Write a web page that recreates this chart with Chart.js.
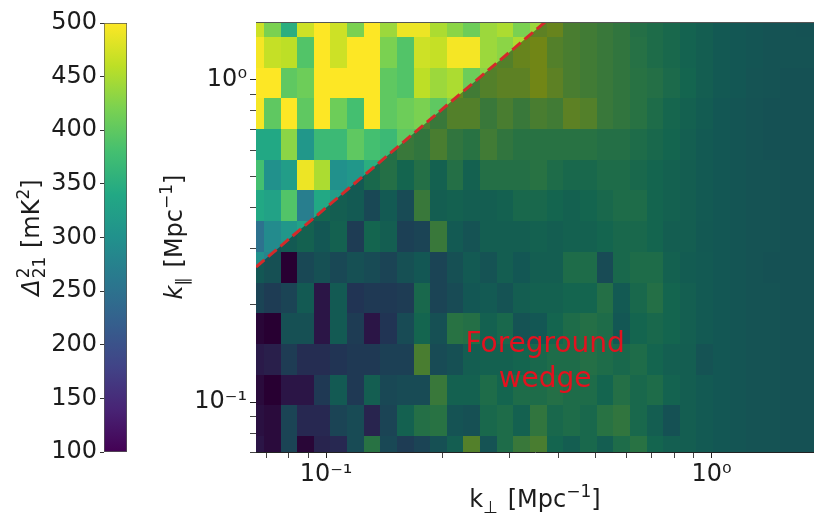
<!DOCTYPE html>
<html>
<head>
<meta charset="utf-8">
<script src="https://cdn.jsdelivr.net/npm/chart.js@4.4.1/dist/chart.umd.min.js"></script>
<style>
  body { margin: 0; background: #fff; }
  #wrap { position: relative; width: 814px; height: 518px; }
  #wrap canvas { position: absolute; left: 0; top: 0; }
</style>
</head>
<body>
<div id="wrap">
  <canvas id="powerMap" width="814" height="518"></canvas>
  <canvas id="colorbar" width="140" height="518"></canvas>
</div>
<script>
// k_perp bin centres [Mpc^-1], left to right
var kPerp = [0.0658, 0.0727, 0.0803, 0.0887, 0.0979, 0.1082, 0.1195, 0.1319, 0.1457, 0.1610,
             0.1778, 0.1964, 0.2169, 0.2395, 0.2646, 0.2922, 0.3227, 0.3565, 0.3937, 0.4349,
             0.4803, 0.5305, 0.5859, 0.6472, 0.7148, 0.7895, 0.8720, 0.9632, 1.0638, 1.175,
             1.298, 1.433, 1.583, 1.749];
// k_par bin centres [Mpc^-1], top row first
var kPar = [1.505, 1.209, 0.971, 0.780, 0.627, 0.503, 0.404, 0.325, 0.261, 0.209,
            0.168, 0.135, 0.1085, 0.0871, 0.0700];

// Delta^2_21 [mK^2], one row per kPar bin, one column per kPerp bin
var power = [
  [470,420,350,470,500,470,420,500,440,490,490,450,430,410,440,450,420,440, 450,420,410,400,390,370,360,350,335,320,305,300,295,290,290,288],
  [495,465,460,390,500,470,500,500,420,390,470,465,495,495,440,430,450,460, 430,420,410,400,390,375,360,350,335,320,305,300,295,290,290,290],
  [500,500,400,410,500,500,500,500,400,390,460,440,450,410,430,440,440,460, 440,420,410,400,390,380,370,355,340,320,305,300,292,290,285,285],
  [495,400,500,400,500,410,380,500,400,410,420,400,430,430,400,420,400,420, 410,440,430,400,390,380,360,345,330,315,300,295,290,285,285,285],
  [340,340,430,310,370,370,400,380,370,400,390,420,390,380,410,390,380,380, 380,380,380,370,370,360,350,340,325,310,300,295,290,285,285,285],
  [380,300,320,490,450,300,310,350,370,340,370,330,370,330,370,370,370,380, 360,350,350,360,360,350,340,330,320,310,300,295,290,290,285,285],
  [340,330,390,270,340,320,310,260,310,270,400,320,330,320,320,330,350,350, 340,330,340,350,360,360,340,330,320,310,300,295,290,290,285,285],
  [250,290,310,330,300,330,230,340,320,240,250,400,310,290,320,320,320,330, 320,330,330,340,350,350,340,320,320,305,300,295,290,290,285,285],
  [300,280,100,260,280,260,280,270,250,280,300,250,280,310,290,320,300,320, 320,360,360,270,350,360,360,330,315,310,300,295,290,285,285,285],
  [250,230,250,310,140,310,210,220,220,230,350,250,270,300,310,290,320,330, 330,340,340,370,310,350,370,340,325,310,300,295,290,290,285,285],
  [110,100,280,280,140,310,230,140,210,270,340,280,380,370,330,350,290,300, 340,360,370,360,300,340,350,340,325,310,300,295,290,290,285,285],
  [150,160,230,190,190,210,220,220,240,240,420,270,280,320,330,330,340,350, 360,360,370,360,350,360,340,325,320,290,300,295,290,290,285,285],
  [120,100,140,140,220,310,220,320,260,270,270,400,330,330,360,340,360,360, 370,360,360,340,370,350,360,335,320,310,300,295,290,290,285,285],
  [130,120,250,180,180,250,270,170,250,330,370,380,290,280,350,360,330,390, 350,360,350,380,390,350,320,285,320,310,300,295,290,290,285,285],
  [140,120,250,110,170,180,270,380,260,230,250,280,320,430,290,360,400,420, 340,320,350,320,360,380,340,325,320,310,300,295,290,290,285,285]
];

// foreground wedge boundary, k_par ~ 4 k_perp
var wedgeLine = [{x: 0.0658, y: 0.262}, {x: 0.370, y: 1.505}];

var xTicks = [0.07, 0.08, 0.09, 0.1, 0.2, 0.3, 0.4, 0.5, 0.6, 0.7, 0.8, 0.9, 1];
var yTicks = [0.07, 0.08, 0.09, 0.1, 0.2, 0.3, 0.4, 0.5, 0.6, 0.7, 0.8, 0.9, 1];
var cbTicks = [100, 150, 200, 250, 300, 350, 400, 450, 500];
var cbMin = 100, cbMax = 500;

var viridis = ['#440154', '#482475', '#414487', '#355f8d', '#2a788e', '#21918c',
               '#22a884', '#44bf70', '#7ad151', '#bddf26', '#fde725'];

var FONT = 'DejaVu Sans';
var INK = '#1c1c1c';

function hexRgb(h) {
  return [parseInt(h.substr(1, 2), 16), parseInt(h.substr(3, 2), 16), parseInt(h.substr(5, 2), 16)];
}
function colorFor(v) {
  var t = Math.max(0, Math.min(1, (v - cbMin) / (cbMax - cbMin))) * (viridis.length - 1);
  var i = Math.min(Math.floor(t), viridis.length - 2), f = t - i;
  var a = hexRgb(viridis[i]), b = hexRgb(viridis[i + 1]);
  return 'rgb(' + Math.round(a[0] + (b[0] - a[0]) * f) + ',' +
                  Math.round(a[1] + (b[1] - a[1]) * f) + ',' +
                  Math.round(a[2] + (b[2] - a[2]) * f) + ')';
}

// geometric bin edges around log-spaced centres
function edges(c, i) {
  var lo = i > 0 ? Math.sqrt(c[i - 1] * c[i]) : c[0] * c[0] / Math.sqrt(c[0] * c[1]);
  var hi = i < c.length - 1 ? Math.sqrt(c[i] * c[i + 1]) : c[i] * c[i] / Math.sqrt(c[i - 1] * c[i]);
  return [lo, hi];
}

// text with italics, sub/superscripts; parts drawn left to right centred on (0,0)
function richText(ctx, parts, size) {
  var small = Math.round(size * 0.7);
  function font(p, s) { return (p.italic ? 'italic ' : '') + s + 'px "' + FONT + '"'; }
  var widths = parts.map(function (p) {
    if (p.stack) {
      ctx.font = font(p, small);
      return Math.max(ctx.measureText(p.stack[0]).width, ctx.measureText(p.stack[1]).width) + 2;
    }
    ctx.font = font(p, p.sup || p.sub ? small : size);
    return ctx.measureText(p.t).width + (p.pad || 0);
  });
  var total = widths.reduce(function (a, b) { return a + b; }, 0);
  var x = -total / 2, base = size * 0.36;
  ctx.textAlign = 'left';
  ctx.textBaseline = 'alphabetic';
  parts.forEach(function (p, i) {
    if (p.stack) {
      ctx.font = font(p, small);
      ctx.fillText(p.stack[0], x + 1, base - size * 0.42);
      ctx.fillText(p.stack[1], x + 1, base + size * 0.25);
    } else if (p.sup) {
      ctx.font = font(p, small);
      ctx.fillText(p.t, x, base - size * 0.42);
    } else if (p.sub) {
      ctx.font = font(p, small);
      ctx.fillText(p.t, x, base + size * 0.25);
    } else {
      ctx.font = font(p, size);
      ctx.fillText(p.t, x, base);
    }
    x += widths[i];
  });
}

var heatmapPlugin = {
  id: 'heatmap',
  beforeDatasetsDraw: function (chart) {
    var ctx = chart.ctx, area = chart.chartArea;
    var xs = chart.scales.x, ys = chart.scales.y;
    ctx.save();
    ctx.beginPath();
    ctx.rect(area.left, area.top, area.right - area.left, area.bottom - area.top);
    ctx.clip();
    for (var r = 0; r < kPar.length; r++) {
      var ye = edges(kPar, r);
      var y0 = ys.getPixelForValue(ye[0]), y1 = ys.getPixelForValue(ye[1]);
      for (var c = 0; c < kPerp.length; c++) {
        var xe = edges(kPerp, c);
        var x0 = xs.getPixelForValue(xe[0]), x1 = xs.getPixelForValue(xe[1]);
        ctx.fillStyle = colorFor(power[r][c]);
        ctx.fillRect(Math.floor(x0), Math.floor(Math.min(y0, y1)),
                     Math.ceil(x1) - Math.floor(x0) + 1, Math.ceil(Math.abs(y1 - y0)) + 1);
      }
    }
    // shade the wedge below the boundary line
    var p0x = xs.getPixelForValue(wedgeLine[0].x), p0y = ys.getPixelForValue(wedgeLine[0].y);
    var p1x = xs.getPixelForValue(wedgeLine[1].x), p1y = ys.getPixelForValue(wedgeLine[1].y);
    ctx.beginPath();
    ctx.moveTo(p0x, p0y);
    ctx.lineTo(p1x, p1y);
    ctx.lineTo(area.right, area.top);
    ctx.lineTo(area.right, area.bottom);
    ctx.lineTo(area.left, area.bottom);
    ctx.closePath();
    ctx.fillStyle = 'rgba(0,0,0,0.4)';
    ctx.fill();
    ctx.restore();
  },
  afterDatasetsDraw: function (chart) {
    var ctx = chart.ctx, xs = chart.scales.x, ys = chart.scales.y;
    var cx = xs.getPixelForValue(0.37), cy = ys.getPixelForValue(0.133);
    ctx.save();
    ctx.fillStyle = '#e3121f';
    ctx.font = '28px "' + FONT + '"';
    ctx.textAlign = 'center';
    ctx.textBaseline = 'middle';
    ctx.fillText('Foreground', cx, cy - 17);
    ctx.fillText('wedge', cx, cy + 18);
    ctx.restore();
  },
  afterDraw: function (chart) {
    var ctx = chart.ctx, area = chart.chartArea;
    ctx.save();
    ctx.strokeStyle = '#555';
    ctx.lineWidth = 1;
    ctx.beginPath();
    ctx.moveTo(area.left, area.top + 0.5);
    ctx.lineTo(area.right, area.top + 0.5);
    ctx.stroke();
    ctx.fillStyle = INK;
    ctx.translate(173, (area.top + area.bottom) / 2);
    ctx.rotate(-Math.PI / 2);
    richText(ctx, [{t: 'k', italic: true}, {t: '\u2225', sub: true, pad: 2}, {t: ' [Mpc'}, {t: '\u22121', sup: true}, {t: ']'}], 24);
    ctx.restore();
    ctx.save();
    ctx.fillStyle = INK;
    ctx.translate((area.left + area.right) / 2, 498);
    richText(ctx, [{t: 'k'}, {t: '\u22a5', sub: true, pad: 2}, {t: ' [Mpc'}, {t: '\u22121', sup: true}, {t: ']'}], 24);
    ctx.restore();
  }
};

function tickColor(ctx) {
  var v = ctx.tick && ctx.tick.value;
  return (v === 0.1 || v === 1) ? '#222' : '#444';
}

new Chart(document.getElementById('powerMap'), {
  type: 'scatter',
  data: {
    datasets: [{
      data: wedgeLine,
      showLine: true,
      borderColor: '#d42a2a',
      borderWidth: 3,
      borderDash: [11, 5],
      pointRadius: 0,
      fill: false
    }]
  },
  options: {
    responsive: false,
    animation: false,
    layout: { padding: { left: 150, top: 22, right: 0, bottom: 0 } },
    plugins: { legend: { display: false }, tooltip: { enabled: false } },
    scales: {
      x: {
        type: 'logarithmic',
        min: 0.0658, max: 1.844,
        afterBuildTicks: function (s) { s.ticks = xTicks.map(function (v) { return {value: v}; }); },
        afterFit: function (s) { s.height = 66; s.paddingLeft = 0; s.paddingRight = 0; },
        ticks: {
          autoSkip: false, maxRotation: 0, padding: 2, color: INK,
          font: { family: FONT, size: 24 },
          callback: function (v) { return v === 0.1 ? '10\u207b\u00b9' : v === 1 ? '10\u2070' : ''; }
        },
        grid: { drawOnChartArea: false, tickLength: 6, tickColor: tickColor },
        border: { display: true, color: '#222', width: 1 }
      },
      y: {
        type: 'logarithmic',
        min: 0.0700, max: 1.505,
        afterBuildTicks: function (s) { s.ticks = yTicks.map(function (v) { return {value: v}; }); },
        afterFit: function (s) { s.width = 106; },
        ticks: {
          autoSkip: false, padding: 3, color: INK,
          font: { family: FONT, size: 24 },
          callback: function (v) { return v === 0.1 ? '10\u207b\u00b9' : v === 1 ? '10\u2070' : ''; }
        },
        grid: { drawOnChartArea: false, tickLength: 6, tickColor: tickColor },
        border: { display: true, color: '#222', width: 1 }
      }
    }
  },
  plugins: [heatmapPlugin]
});

// colour bar: one floating bar spanning the colour range, filled with the colormap
var cbTitle = {
  id: 'cbTitle',
  afterDraw: function (chart) {
    var ctx = chart.ctx, area = chart.chartArea;
    ctx.save();
    ctx.fillStyle = INK;
    ctx.translate(30, (area.top + area.bottom) / 2);
    ctx.rotate(-Math.PI / 2);
    richText(ctx, [{t: '\u0394', italic: true}, {stack: ['2', '21']}, {t: ' [mK'}, {t: '2', sup: true}, {t: ']'}], 24);
    ctx.restore();
  }
};

new Chart(document.getElementById('colorbar'), {
  type: 'bar',
  data: {
    labels: [''],
    datasets: [{
      data: [[cbMin, cbMax]],
      backgroundColor: function (c) {
        var ys = c.chart.scales.y;
        var lo = ys ? ys.getPixelForValue(cbMin) : NaN, hi = ys ? ys.getPixelForValue(cbMax) : NaN;
        if (!isFinite(lo) || !isFinite(hi)) return viridis[5];
        var g = c.chart.ctx.createLinearGradient(0, lo, 0, hi);
        viridis.forEach(function (col, i) { g.addColorStop(i / (viridis.length - 1), col); });
        return g;
      },
      borderColor: '#555',
      borderWidth: 1,
      borderSkipped: false,
      barPercentage: 1,
      categoryPercentage: 1
    }]
  },
  options: {
    responsive: false,
    animation: false,
    layout: { padding: { left: 0, top: 23, right: 13, bottom: 66 } },
    plugins: { legend: { display: false }, tooltip: { enabled: false } },
    scales: {
      x: { display: false },
      y: {
        min: cbMin, max: cbMax,
        afterBuildTicks: function (s) { s.ticks = cbTicks.map(function (v) { return {value: v}; }); },
        afterFit: function (s) { s.width = 104; },
        ticks: { padding: 3, color: INK, font: { family: FONT, size: 24 } },
        grid: { drawOnChartArea: false, tickLength: 4, tickColor: '#333' },
        border: { display: false }
      }
    }
  },
  plugins: [cbTitle]
});
</script>
</body>
</html>
